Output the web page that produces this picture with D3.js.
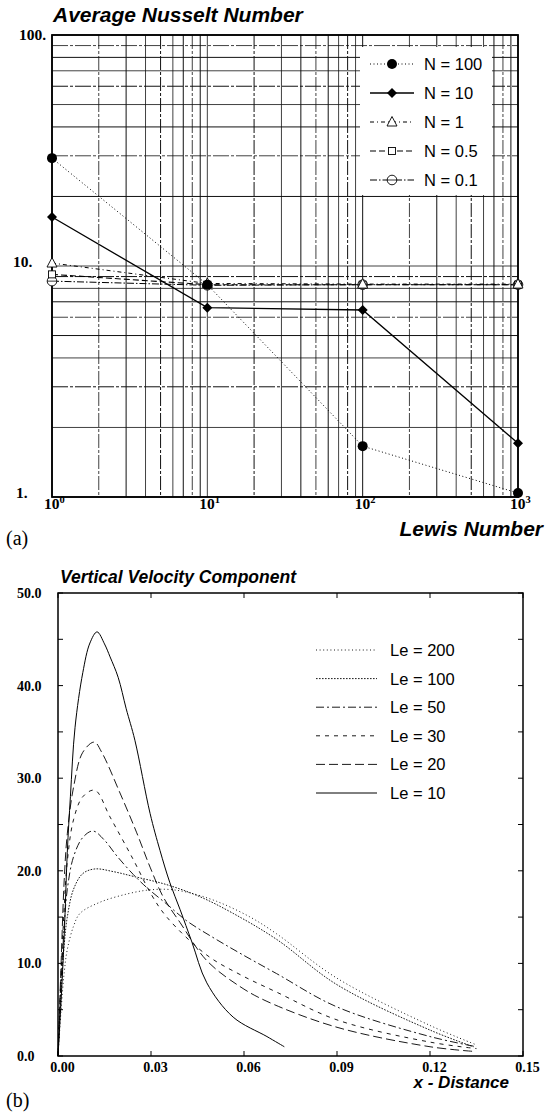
<!DOCTYPE html>
<html>
<head>
<meta charset="utf-8">
<script src="https://cdn.jsdelivr.net/npm/d3@7"></script>
<style>
  body{margin:0;background:#fff;}
  svg{display:block;}
</style>
</head>
<body>
<div id="chart"></div>
<script>
//panel (a) data: average Nusselt number vs Lewis number
const lewis = [1, 10, 100, 1000];
const nu100 = [29.3, 8.3, 1.66, 1.04];
const nu10 = [16.3, 6.6, 6.45, 1.71];
const nu1 = [10.3, 8.4, 8.35, 8.35];
const nu05 = [9.2, 8.3, 8.3, 8.3];
const nu01 = [8.6, 8.25, 8.3, 8.3];
const nLabels = ["N = 100", "N = 10", "N = 1", "N = 0.5", "N = 0.1"];
const yTicksA = [1, 10, 100];
const yTickLabelsA = ["1.", "10.", "100."];
const xTicksA = [1, 10, 100, 1000];

//panel (b) data: vertical velocity profiles [x, v]
const le200 = [[0,0],[0.001,5],[0.002,9],[0.003,11.5],[0.005,14],[0.0071,15.4],[0.0135,16.6],[0.0223,17.5],[0.0286,17.9],[0.0351,18.0],[0.0415,17.7],[0.0512,16.7],[0.062,15.0],[0.0705,13.2],[0.09,8.4],[0.12,3.3],[0.135,1.2]];
const le100 = [[0,0],[0.001,7],[0.002,12],[0.003,15],[0.005,18],[0.008,19.7],[0.0119,20.2],[0.018,19.9],[0.0243,19.4],[0.0351,18.5],[0.0458,17.2],[0.0565,15.4],[0.0705,12.6],[0.09,7.7],[0.12,2.8],[0.134,1.0]];
const le50 = [[0,0],[0.001,8],[0.002,14],[0.003,18],[0.005,21.5],[0.008,23.6],[0.0113,24.3],[0.015,23.3],[0.019,21.6],[0.0243,19.6],[0.0286,18.2],[0.0351,16.4],[0.0415,14.6],[0.05,12.8],[0.0587,11.1],[0.0705,8.9],[0.09,5.3],[0.12,2.1],[0.135,1.0]];
const le30 = [[0,0],[0.001,9],[0.002,16],[0.003,21],[0.005,25.5],[0.008,28],[0.0119,28.7],[0.0168,25.8],[0.0243,21.2],[0.03,17.5],[0.0351,15.0],[0.048,10.9],[0.0587,8.8],[0.0705,6.9],[0.09,3.9],[0.12,1.5],[0.135,0.8]];
const le20 = [[0,0],[0.001,10],[0.002,19],[0.003,24],[0.005,29],[0.008,32.8],[0.0117,33.9],[0.0141,32.8],[0.02,28.4],[0.0254,24.1],[0.0297,20.4],[0.0339,17.2],[0.0394,14.4],[0.048,10.3],[0.0587,7.5],[0.0674,5.9],[0.09,3.1],[0.12,1.0],[0.134,0.5]];
const le10 = [[0,0],[0.001,6],[0.002,13],[0.003,22],[0.004,28],[0.0055,35.5],[0.008,41.4],[0.0103,44.6],[0.0126,45.8],[0.015,44.5],[0.0168,43.1],[0.0194,40.9],[0.022,37.5],[0.0248,34.1],[0.0297,26.2],[0.0329,22.2],[0.0361,18.7],[0.0394,15.8],[0.0432,12.3],[0.048,7.9],[0.0565,4.2],[0.0674,2.1],[0.073,1.0]];
const leLabels = ["Le = 200", "Le = 100", "Le = 50", "Le = 30", "Le = 20", "Le = 10"];
const xTicksB = [0, 0.03, 0.06, 0.09, 0.12, 0.15];
const yTicksB = [0, 10, 20, 30, 40, 50];
const yMinorB = [0,5,10,15,20,25,30,35,40,45,50];

const w = 545;
const h = 1112;
const sans = "'Liberation Sans', Arial, Helvetica, sans-serif";
const serif = "'Liberation Serif', 'Times New Roman', serif";

const svg = d3.select("#chart")
    .append("svg")
    .attr("width", w)
    .attr("height", h);

svg.append("rect").attr("width", w).attr("height", h).attr("fill", "#fff");

// ---------------- panel (a) ----------------
const xA = d3.scaleLog().domain([1, 1000]).range([52, 518]);
const yA = d3.scaleLog().domain([1, 100]).range([497, 35]);

//log grid, 1..9 in every decade
const gridX = [];
[1, 10, 100].forEach(d => { for (let k = 1; k <= 9; k++) gridX.push(d * k); });
gridX.push(1000);
const gridY = [];
[1, 10].forEach(d => { for (let k = 1; k <= 9; k++) gridY.push(d * k); });
gridY.push(100);

const grid = svg.append("g");
grid.selectAll("line.gx")
    .data(gridX)
    .enter()
    .append("line")
    .attr("x1", d => xA(d)).attr("x2", d => xA(d))
    .attr("y1", yA(100)).attr("y2", yA(1))
    .attr("stroke", "#111")
    .attr("stroke-width", (d, i) => i % 2 ? 0.8 : 1)
    .attr("stroke-dasharray", (d, i) => i % 3 == 1 ? "14,2,3,2" : null);
grid.selectAll("line.gy")
    .data(gridY)
    .enter()
    .append("line")
    .attr("y1", d => yA(d)).attr("y2", d => yA(d))
    .attr("x1", xA(1)).attr("x2", xA(1000))
    .attr("stroke", "#111")
    .attr("stroke-width", (d, i) => i % 2 ? 0.8 : 1)
    .attr("stroke-dasharray", (d, i) => i % 3 == 2 ? "16,2,3,2" : null);

//white legend box over the grid
svg.append("rect")
    .attr("x", 360).attr("y", 47)
    .attr("width", 132).attr("height", 148)
    .attr("fill", "#fff");

//frame
svg.append("rect")
    .attr("x", xA(1)).attr("y", yA(100))
    .attr("width", xA(1000) - xA(1)).attr("height", yA(1) - yA(100))
    .attr("fill", "none").attr("stroke", "#000").attr("stroke-width", 1.8);

const seriesA = [
    {vals: nu100, dash: "1,2.5", width: 1, marker: "circleFill"},
    {vals: nu10, dash: null, width: 1.3, marker: "diamond"},
    {vals: nu1, dash: "4,3,1,3", width: 1, marker: "triangle"},
    {vals: nu05, dash: "6,3", width: 1.1, marker: "square"},
    {vals: nu01, dash: "7,2,1.5,2", width: 1, marker: "circle"}
];

const lineA = d3.line().x((d, i) => xA(lewis[i])).y(d => yA(d));

//draws a marker of given kind at (x,y)
function marker(g, kind, x, y) {
    if (kind == "circleFill") {
        g.append("circle").attr("cx", x).attr("cy", y).attr("r", 5).attr("fill", "#000");
    } else if (kind == "diamond") {
        g.append("path").attr("d", `M${x},${y-5}L${x+5},${y}L${x},${y+5}L${x-5},${y}Z`).attr("fill", "#000");
    } else if (kind == "triangle") {
        g.append("path").attr("d", `M${x},${y-5.5}L${x+5},${y+4}L${x-5},${y+4}Z`)
            .attr("fill", "#fff").attr("stroke", "#000").attr("stroke-width", 0.9);
    } else if (kind == "square") {
        g.append("rect").attr("x", x - 3.5).attr("y", y - 3.5).attr("width", 7).attr("height", 7)
            .attr("fill", "#fff").attr("stroke", "#000").attr("stroke-width", 0.9);
    } else {
        g.append("circle").attr("cx", x).attr("cy", y).attr("r", 4.8)
            .attr("fill", "#fff").attr("stroke", "#000").attr("stroke-width", 0.9);
        g.append("line").attr("x1", x - 4.8).attr("x2", x + 4.8).attr("y1", y).attr("y2", y)
            .attr("stroke", "#000").attr("stroke-width", 0.8);
    }
}

const dataA = svg.append("g");
seriesA.slice().reverse().forEach(s => {
    dataA.append("path")
        .attr("d", lineA(s.vals))
        .attr("fill", "none")
        .attr("stroke", "#000")
        .attr("stroke-width", s.width)
        .attr("stroke-dasharray", s.dash);
});
seriesA.slice().reverse().forEach(s => {
    s.vals.forEach((v, i) => marker(dataA, s.marker, xA(lewis[i]), yA(v)));
});

//legend (a)
const legA = svg.append("g");
seriesA.forEach((s, i) => {
    const ly = 64 + i * 29;
    legA.append("line")
        .attr("x1", 370).attr("x2", 414).attr("y1", ly).attr("y2", ly)
        .attr("stroke", "#000").attr("stroke-width", s.width)
        .attr("stroke-dasharray", s.dash);
    marker(legA, s.marker, 392, ly);
    legA.append("text")
        .attr("x", 424).attr("y", ly + 6)
        .attr("font-family", sans).attr("font-size", 16.5)
        .text(nLabels[i]);
});

//axis labels (a)
svg.selectAll("text.ya")
    .data(yTicksA)
    .enter()
    .append("text")
    .attr("x", (d, i) => [16, 13, 19][i])
    .attr("y", d => d == 100 ? yA(d) + 5 : yA(d) + 1)
    .attr("font-family", serif).attr("font-weight", "bold").attr("font-size", 15.5)
    .text((d, i) => yTickLabelsA[i]);

const xl = svg.selectAll("text.xa")
    .data(xTicksA)
    .enter()
    .append("text")
    .attr("x", d => xA(d) - 8)
    .attr("y", 509)
    .attr("font-family", serif).attr("font-weight", "bold").attr("font-size", 15.5);
xl.append("tspan").text("10");
xl.append("tspan").attr("dy", -6).attr("font-size", 10.5).text((d, i) => i);

svg.append("text")
    .attr("x", 53).attr("y", 22)
    .attr("font-family", sans).attr("font-weight", "bold").attr("font-style", "italic").attr("font-size", 21)
    .text("Average Nusselt Number");
svg.append("text")
    .attr("x", 543).attr("y", 536).attr("text-anchor", "end")
    .attr("font-family", sans).attr("font-weight", "bold").attr("font-style", "italic").attr("font-size", 21)
    .text("Lewis Number");
svg.append("text")
    .attr("x", 6).attr("y", 545)
    .attr("font-family", serif).attr("font-size", 20)
    .text("(a)");

// ---------------- panel (b) ----------------
const xB = d3.scaleLinear().domain([0, 0.15]).range([58, 523]);
const yB = d3.scaleLinear().domain([0, 50]).range([1056, 593]);

svg.append("rect")
    .attr("x", xB(0)).attr("y", yB(50))
    .attr("width", xB(0.15) - xB(0)).attr("height", yB(0) - yB(50))
    .attr("fill", "none").attr("stroke", "#000").attr("stroke-width", 1.5);

//inward ticks on all four sides
const ticksB = svg.append("g").attr("stroke", "#000").attr("stroke-width", 1);
yMinorB.forEach(v => {
    ticksB.append("line").attr("x1", xB(0)).attr("x2", xB(0) + 5).attr("y1", yB(v)).attr("y2", yB(v));
    ticksB.append("line").attr("x1", xB(0.15)).attr("x2", xB(0.15) - 5).attr("y1", yB(v)).attr("y2", yB(v));
});
xTicksB.forEach(v => {
    ticksB.append("line").attr("x1", xB(v)).attr("x2", xB(v)).attr("y1", yB(0)).attr("y2", yB(0) - 5);
    ticksB.append("line").attr("x1", xB(v)).attr("x2", xB(v)).attr("y1", yB(50)).attr("y2", yB(50) + 5);
});

svg.selectAll("text.yb")
    .data(yTicksB)
    .enter()
    .append("text")
    .attr("x", 17)
    .attr("y", d => yB(d) + 5)
    .attr("font-family", serif).attr("font-weight", "bold").attr("font-size", 14)
    .text(d => d.toFixed(1));
svg.selectAll("text.xb")
    .data(xTicksB)
    .enter()
    .append("text")
    .attr("x", d => xB(d) + 4.5)
    .attr("y", 1072)
    .attr("text-anchor", "middle")
    .attr("font-family", serif).attr("font-weight", "bold").attr("font-size", 14)
    .text(d => d.toFixed(2));

const seriesB = [
    {vals: le200, dash: "1,2.6", width: 0.9},
    {vals: le100, dash: "1.6,1.4", width: 0.9},
    {vals: le50, dash: "8,3,2,3", width: 0.9},
    {vals: le30, dash: "4,5", width: 0.9},
    {vals: le20, dash: "9,4", width: 0.9},
    {vals: le10, dash: null, width: 1}
];

const lineB = d3.line()
    .x(d => xB(d[0]))
    .y(d => yB(d[1]))
    .curve(d3.curveCatmullRom.alpha(0.5));

seriesB.forEach(s => {
    svg.append("path")
        .attr("d", lineB(s.vals))
        .attr("fill", "none")
        .attr("stroke", "#000")
        .attr("stroke-width", s.width)
        .attr("stroke-dasharray", s.dash);
});

//legend (b)
seriesB.forEach((s, i) => {
    const ly = 650 + i * 28.6;
    svg.append("line")
        .attr("x1", 316).attr("x2", 377).attr("y1", ly).attr("y2", ly)
        .attr("stroke", "#000").attr("stroke-width", s.width)
        .attr("stroke-dasharray", s.dash);
    svg.append("text")
        .attr("x", 390).attr("y", ly + 6)
        .attr("font-family", sans).attr("font-size", 16.5)
        .text(leLabels[i]);
});

svg.append("text")
    .attr("x", 60).attr("y", 583)
    .attr("font-family", sans).attr("font-weight", "bold").attr("font-style", "italic").attr("font-size", 17.5)
    .text("Vertical Velocity Component");
svg.append("text")
    .attr("x", 509).attr("y", 1088).attr("text-anchor", "end")
    .attr("font-family", sans).attr("font-weight", "bold").attr("font-style", "italic").attr("font-size", 17)
    .text("x - Distance");
svg.append("text")
    .attr("x", 6).attr("y", 1107)
    .attr("font-family", serif).attr("font-size", 20)
    .text("(b)");
</script>
</body>
</html>
